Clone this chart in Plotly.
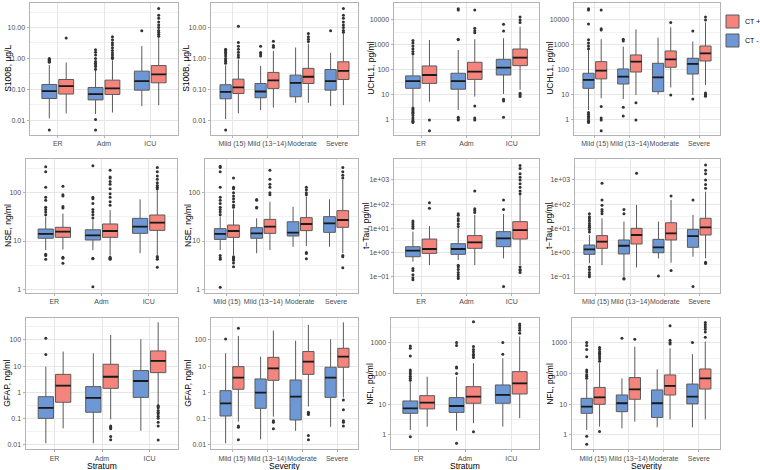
import plotly.graph_objects as go

# ---------------- categories ----------------
STRATA = ["ER", "Adm", "ICU"]
SEVERITY = ["Mild (15)", "Mild (13\u221214)", "Moderate", "Severe"]
GROUPS = ["CT +", "CT -"]

# ---------------- box statistics (lo/hi = whisker ends, out = outliers) ----------------
s100b_str_neg = dict(lo=[0.0116, 0.016, 0.029], q1=[0.051, 0.046, 0.095], med=[0.088, 0.071, 0.186],
                     q3=[0.145, 0.116, 0.39], hi=[0.62, 0.42, 2.5],
                     out=[[0.75, 0.82, 0.88, 0.95, 1.0, 0.0049],
                          [0.45, 0.55, 0.62, 0.7, 0.8, 1.0, 1.3, 1.6, 1.9, 0.0107, 0.0049], [7.8]])
s100b_str_pos = dict(lo=[0.0168, 0.018, 0.031], q1=[0.071, 0.069, 0.164], med=[0.128, 0.108, 0.305],
                     q3=[0.21, 0.2, 0.59], hi=[0.74, 0.88, 4.75],
                     out=[[4.6], [1.0, 1.1, 1.3, 1.5, 1.8, 2.2, 2.7, 3.2, 4.0, 5.0],
                          [5.2, 6, 7, 8, 10, 12, 15, 20, 25, 41]])

s100b_sev_neg = dict(lo=[0.011, 0.0215, 0.037, 0.029], q1=[0.050, 0.054, 0.058, 0.095],
                     med=[0.084, 0.086, 0.164, 0.186], q3=[0.142, 0.156, 0.29, 0.44], hi=[0.6, 0.57, 2.26, 1.52],
                     out=[[0.7, 0.8, 0.9, 1.0, 1.2, 1.4, 1.6, 1.8, 2.0, 0.0049], [1.2, 1.4, 1.55, 2.5], [], [7.8]])
s100b_sev_pos = dict(lo=[0.017, 0.026, 0.037, 0.031], q1=[0.074, 0.108, 0.156, 0.21],
                     med=[0.116, 0.195, 0.257, 0.4], q3=[0.215, 0.355, 0.48, 0.78], hi=[0.93, 1.77, 3.0, 6.4],
                     out=[[1.1, 1.3, 1.6, 2.0, 2.5, 3.3, 11], [2.3, 2.6, 3.6], [3.5, 4.2, 5, 6.4],
                          [7, 8, 10, 12, 15, 20, 25, 41]])

uchl1_str_neg = dict(lo=[3.4, 2.5, 11], q1=[18.5, 17, 63], med=[36, 36, 124], q3=[58, 74, 267], hi=[400, 630, 1850],
                     out=[[450, 550, 700, 900, 1200, 1500, 0.8, 0.9, 1.0, 1.2, 1.5, 1.8, 2.0, 2.3, 2.6, 3.0],
                          [1600, 1700, 25000, 28000, 1.0, 1.1, 1.3], [3600, 6700, 5.7, 6.8, 1.3]])
uchl1_str_pos = dict(lo=[5.4, 8.6, 16], q1=[29, 42, 149], med=[63, 86, 311], q3=[145, 203, 690], hi=[1580, 1690, 5400],
                     out=[[1.0, 0.37], [3100, 3700, 4700, 25000, 3.6, 1.2, 1.0], [8000, 10000, 13000, 8.6, 10, 11.7]])

uchl1_sev_neg = dict(lo=[2.5, 6.9, 10.5, 10], q1=[18.5, 27.5, 13.6, 69], med=[40, 54, 51, 174],
                     q3=[74, 110, 185, 293], hi=[630, 860, 1960, 1360],
                     out=[[700, 900, 1200, 1600, 6900, 25000, 28000, 0.8, 0.9, 1.0, 1.2, 1.4, 1.7, 2.0],
                          [1450, 1700, 3.2, 1.45], [], [3600, 6.9]])
uchl1_sev_pos = dict(lo=[7.4, 10, 20, 25], q1=[44, 83, 128, 229], med=[94, 215, 267, 464],
                     q3=[215, 400, 575, 910], hi=[1700, 4200, 5100, 8000],
                     out=[[4000, 4500, 25000, 3.5, 1.2, 1.0, 0.37], [4.9, 1.0], [8000, 10],
                          [10000, 13000, 9, 10, 11, 12]])

nse_str_neg = dict(lo=[6.5, 6.5, 5.6], q1=[11.4, 10.5, 14.4], med=[14, 13.1, 19.8], q3=[17.7, 17.1, 29.4],
                   hi=[32, 27, 73],
                   out=[[35, 40, 45, 50, 70, 80, 129, 272, 345, 5.3, 5.0, 4.2],
                        [30, 35, 40, 45, 60, 75, 80, 360, 4.4, 4.3, 1.13], []])
nse_str_pos = dict(lo=[6.7, 5.0, 5.1], q1=[11.9, 11.9, 16.6], med=[15.6, 16.1, 23.9], q3=[19.2, 22.5, 34.5],
                   hi=[37, 43.6, 113],
                   out=[[48, 52, 85, 90, 135, 4.6, 4.4, 3.45],
                        [55, 65, 80, 95, 120, 150, 170, 200, 210, 290, 4.6, 4.4, 4.3, 4.2],
                        [120, 130, 140, 160, 190, 220, 270, 330, 4.8, 4.5, 4.2, 2.85]])

nse_sev_neg = dict(lo=[6.5, 5.6, 7.6, 7.6], q1=[10.8, 11.4, 12.7, 15.1], med=[14, 14.4, 14.9, 23.2],
                   q3=[18, 18.9, 25, 31.9], hi=[32, 29.4, 51, 73],
                   out=[[35, 40, 45, 50, 60, 70, 80, 130, 270, 330, 350, 5.0, 4.5, 4.2, 1.1],
                        [48, 50, 70, 72], [], []])
nse_sev_pos = dict(lo=[5.1, 6.5, 7.9, 5.6], q1=[11.9, 14.4, 16.4, 19.2], med=[16.1, 19.8, 22.5, 27.2],
                   q3=[21.4, 28, 30.4, 42.5], hi=[45, 65, 83, 183],
                   out=[[50, 55, 65, 75, 85, 100, 120, 130, 200, 4.7, 4.5, 4.3, 4.0, 3.5, 2.95],
                        [90, 100, 130, 150, 190, 290], [90, 100, 115, 130, 5.8, 5.5, 4.3],
                        [200, 230, 270, 330, 5.0, 4.7, 2.8]])

ttau_str_neg = dict(lo=[0.42, 0.49, 0.57], q1=[0.67, 0.84, 1.74], med=[1.19, 1.4, 3.86], q3=[1.74, 2.32, 7.3],
                    hi=[7.3, 10, 39],
                    out=[[10, 12, 14, 17, 20, 0.22, 0.18, 0.12, 0.09, 0.075],
                         [12, 15, 20, 25, 35, 40, 0.3, 0.25, 0.2, 0.15, 0.12, 0.1, 0.085], [60, 149, 0.039]])
ttau_str_pos = dict(lo=[0.3, 0.3, 0.3], q1=[0.92, 1.49, 3.6], med=[1.4, 2.64, 8.5], q3=[3.6, 5, 18.9],
                    hi=[12.5, 36, 240],
                    out=[[67, 115], [45, 55, 65, 350],
                         [270, 350, 500, 700, 1000, 1300, 1800, 3000, 4000, 0.25, 0.2, 0.18, 0.15]])

ttau_sev_neg = dict(lo=[0.36, 0.1, 0.57, 0.67], q1=[0.84, 0.87, 0.98, 1.64], med=[1.35, 1.9, 1.64, 4.8],
                    q3=[2.04, 3.3, 3.5, 9.1], hi=[5.3, 19, 19, 36],
                    out=[[7, 9, 11, 13, 16, 20, 25, 30, 40, 0.25, 0.2, 0.15, 0.12, 0.1],
                         [40, 60, 0.085, 0.08], [0.107], [149, 0.039]])
ttau_sev_pos = dict(lo=[0.3, 0.24, 0.38, 0.57], q1=[1.49, 2.25, 3.3, 5.3], med=[2.8, 5.3, 6.2, 11],
                    q3=[5, 10, 17, 26], hi=[26, 92, 150, 330],
                    out=[[40, 50, 60, 90, 150, 730], [1890], [218, 0.18],
                         [450, 650, 1000, 1800, 2500, 4200, 0.4, 0.35]])

gfap_str_neg = dict(lo=[0.011, 0.011, 0.033], q1=[0.099, 0.17, 0.63], med=[0.25, 0.6, 2.68], q3=[0.67, 1.63, 6.7],
                    hi=[9.5, 31, 106], out=[[28, 116], [], []])
gfap_str_pos = dict(lo=[0.041, 0.091, 0.32], q1=[0.41, 1.4, 5.6], med=[1.77, 3.9, 15.7], q3=[4.8, 11.7, 38],
                    hi=[36, 155, 475],
                    out=[[], [0.05, 0.045, 0.04, 0.02, 0.015],
                         [0.3, 0.28, 0.25, 0.2, 0.17, 0.15, 0.12, 0.1, 0.07, 0.05, 0.0148]])

gfap_sev_neg = dict(lo=[0.011, 0.0155, 0.033, 0.047], q1=[0.122, 0.24, 0.086, 0.63], med=[0.37, 0.96, 0.67, 3.6],
                    q3=[1.14, 3.2, 2.92, 9], hi=[31, 23, 94, 106], out=[[110], [], [], []])
gfap_sev_pos = dict(lo=[0.074, 0.115, 0.28, 0.63], q1=[1.29, 2.84, 4.8, 9], med=[3.6, 8.2, 14.8, 23],
                    q3=[9.5, 21.6, 36, 48], hi=[142, 228, 376, 475],
                    out=[[280, 0.05, 0.045, 0.015], [0.08, 0.07, 0.04], [0.17, 0.15, 0.14, 0.022, 0.015],
                         [0.5, 0.21, 0.08, 0.07, 0.05]])

nfl_str_neg = dict(lo=[1.45, 1.38, 1.86], q1=[5.05, 5.4, 10.7], med=[7.3, 8.7, 19.9], q3=[12.7, 16.3, 42],
                   hi=[54, 78, 310],
                   out=[[60, 70, 80, 95, 110, 130, 369, 650, 780, 0.88], [100, 150, 160, 800, 1000, 0.54],
                        [418, 1000]])
nfl_str_pos = dict(lo=[1.86, 2.4, 3.5], q1=[7, 10.7, 21.4], med=[11.2, 17.6, 47.7], q3=[18.9, 37, 114],
                   hi=[78, 214, 1570],
                   out=[[], [330, 380, 420, 500, 600, 750, 4800, 1.28], [2000, 2500, 3000, 3500, 4000]])

nfl_sev_neg = dict(lo=[1.45, 1.64, 1.77, 1.77], q1=[5.05, 5.7, 3.7, 10.2], med=[8.3, 10.7, 10.7, 17.6],
                   q3=[15.5, 19.9, 29, 45], hi=[61, 69, 136, 418],
                   out=[[70, 80, 90, 110, 130, 350, 600, 800, 1000, 0.9, 0.5], [1380], [], [1000]])
nfl_sev_pos = dict(lo=[1.86, 2.7, 3.2, 3.2], q1=[9.9, 14.4, 19.9, 31], med=[16.7, 30.4, 39, 69],
                   q3=[35, 73, 89, 139], hi=[213, 740, 655, 1080],
                   out=[[250, 300, 350, 400, 450, 500, 600, 700, 1.3], [1280], [900, 1000, 1200, 3500],
                        [1500, 2200, 2700, 3200, 3800, 4500]])

# ---------------- axis tick labels ----------------
S100B_TICKS = [0.01, 0.1, 1, 10]
S100B_TEXT = ["0.01", "0.10", "1.00", "10.00"]
UCHL1_TICKS = [1, 10, 100, 1000, 10000]
UCHL1_TEXT = ["1", "10", "100", "1000", "10000"]
NSE_TICKS = [1, 10, 100]
NSE_TEXT = ["1", "10", "100"]
TTAU_TICKS = [0.1, 1, 10, 100, 1000]
TTAU_TEXT = ["1e\u221201", "1e+00", "1e+01", "1e+02", "1e+03"]
GFAP_TICKS = [0.01, 0.1, 1, 10, 100]
GFAP_TEXT = ["0.01", "0.1", "1", "10", "100"]
NFL_TICKS = [1, 10, 100, 1000]
NFL_TEXT = ["1", "10", "100", "1000"]

# ---------------- styling ----------------
FILL = {"CT -": "#6E98D5", "CT +": "#F5847D"}
LINE = "#5A5A5A"
GRID = "#E6E6E6"
MINOR = "#F2F2F2"
BORDER = "#B3B3B3"
TICKC = "#4D4D4D"
FONT = "Liberation Sans, Arial, Helvetica, sans-serif"
W, H = 760, 470

# panel layout (pixels): x-domains per row, y-domains per row
XDOM = [[(30, 178), (211, 358), (394, 539), (574, 720)],
        [(26, 177), (205, 358), (394, 539), (575, 720)],
        [(26, 178), (211, 358), (391, 539), (572, 720)]]
YDOM = [(2.7, 135), (159.3, 292.7), (318.3, 449.3)]
YTITLE_X = [[8, 186, 371, 550], [8, 188, 366, 549], [7, 188, 370, 550]]

panels = [
    (STRATA, s100b_str_neg, s100b_str_pos, "S100B, \u00b5g/L", S100B_TICKS, S100B_TEXT, [-2.47, 1.80]),
    (SEVERITY, s100b_sev_neg, s100b_sev_pos, "S100B, \u00b5g/L", S100B_TICKS, S100B_TEXT, [-2.47, 1.80]),
    (STRATA, uchl1_str_neg, uchl1_str_pos, "UCHL1, pg/ml", UCHL1_TICKS, UCHL1_TEXT, [-0.60, 4.69]),
    (SEVERITY, uchl1_sev_neg, uchl1_sev_pos, "UCHL1, pg/ml", UCHL1_TICKS, UCHL1_TEXT, [-0.60, 4.69]),
    (STRATA, nse_str_neg, nse_str_pos, "NSE, ng/ml", NSE_TICKS, NSE_TEXT, [-0.069, 2.69]),
    (SEVERITY, nse_sev_neg, nse_sev_pos, "NSE, ng/ml", NSE_TICKS, NSE_TEXT, [-0.069, 2.69]),
    (STRATA, ttau_str_neg, ttau_str_pos, "t\u2212Tau, pg/ml", TTAU_TICKS, TTAU_TEXT, [-1.662, 3.855]),
    (SEVERITY, ttau_sev_neg, ttau_sev_pos, "t\u2212Tau, pg/ml", TTAU_TICKS, TTAU_TEXT, [-1.662, 3.855]),
    (STRATA, gfap_str_neg, gfap_str_pos, "GFAP, ng/ml", GFAP_TICKS, GFAP_TEXT, [-2.19, 2.83]),
    (SEVERITY, gfap_sev_neg, gfap_sev_pos, "GFAP, ng/ml", GFAP_TICKS, GFAP_TEXT, [-2.19, 2.83]),
    (STRATA, nfl_str_neg, nfl_str_pos, "NFL, pg/ml", NFL_TICKS, NFL_TEXT, [-0.467, 3.79]),
    (SEVERITY, nfl_sev_neg, nfl_sev_pos, "NFL, pg/ml", NFL_TICKS, NFL_TEXT, [-0.467, 3.79]),
]

fig = go.Figure()
layout = {}
annotations = []
shapes = []

for p, (cats, neg, pos, ytitle, tvals, ttext, yr) in enumerate(panels):
    r, c = divmod(p, 4)
    n = "" if p == 0 else str(p + 1)
    xa, ya = "x" + n, "y" + n
    for gname, st in (("CT -", neg), ("CT +", pos)):
        # an empty outlier row is passed as [None] so every box keeps a sample row
        pts = [o if len(o) else [None] for o in st["out"]]
        fig.add_trace(go.Box(
            x=cats, y=pts, q1=st["q1"], median=st["med"], q3=st["q3"],
            lowerfence=st["lo"], upperfence=st["hi"], orientation="v",
            name=gname, legendgroup=gname, showlegend=False,
            offsetgroup=gname, alignmentgroup=f"a{p}",
            xaxis=xa, yaxis=ya,
            fillcolor=FILL[gname], line=dict(color=LINE, width=1),
            whiskerwidth=0, boxpoints="outliers", pointpos=0, jitter=0,
            marker=dict(color="#333333", size=3, line=dict(width=0)),
            hoverinfo="skip",
        ))
        # thicker dark median bar drawn on top of each box
        fig.add_trace(go.Box(
            x=cats, q1=st["med"], median=st["med"], q3=st["med"],
            lowerfence=st["med"], upperfence=st["med"], orientation="v",
            name=gname, legendgroup=gname, showlegend=False,
            offsetgroup=gname, alignmentgroup=f"a{p}",
            xaxis=xa, yaxis=ya,
            fillcolor="rgba(0,0,0,0)", line=dict(color="#1A1A1A", width=1.8),
            whiskerwidth=0, boxpoints=False, hoverinfo="skip",
        ))

    x0, x1 = XDOM[r][c]
    y0, y1 = YDOM[r]
    minor_vals = [10 ** (k + 0.5) for k in range(-4, 6)]
    layout["xaxis" + n] = dict(
        domain=[x0 / W, x1 / W], anchor=ya, type="category",
        categoryorder="array", categoryarray=cats, range=[-0.6, len(cats) - 0.4],
        showgrid=True, gridcolor=GRID, gridwidth=1,
        showline=True, linecolor=BORDER, linewidth=1, mirror=True,
        ticks="outside", ticklen=2, tickcolor=BORDER, tickangle=0,
        tickfont=dict(size=7, color=TICKC, family=FONT), zeroline=False,
    )
    layout["yaxis" + n] = dict(
        domain=[1 - y1 / H, 1 - y0 / H], anchor=xa, type="log", range=yr,
        tickmode="array", tickvals=tvals, ticktext=ttext,
        showgrid=True, gridcolor=GRID, gridwidth=1,
        minor=dict(tickvals=minor_vals, showgrid=True, gridcolor=MINOR, gridwidth=0.7, ticks=""),
        showline=True, linecolor=BORDER, linewidth=1, mirror=True,
        ticks="outside", ticklen=2.5, tickcolor=BORDER,
        tickfont=dict(size=7, color=TICKC, family=FONT), zeroline=False,
    )
    annotations.append(dict(
        text=ytitle, textangle=-90, x=YTITLE_X[r][c] / W, y=1 - (y0 + y1) / 2 / H,
        xref="paper", yref="paper", xanchor="center", yanchor="middle", showarrow=False,
        font=dict(size=8.5, color="black", family=FONT)))
    if r == 2:
        annotations.append(dict(
            text="Stratum" if cats is STRATA else "Severity",
            x=(x0 + x1) / 2 / W, y=1 - 465.5 / H, xref="paper", yref="paper",
            xanchor="center", yanchor="middle", showarrow=False,
            font=dict(size=8.5, color="black", family=FONT)))

# legend (drawn as keys + labels at the top right)
for i, g in enumerate(GROUPS):
    top = 15 + i * 19
    shapes.append(dict(type="rect", xref="paper", yref="paper",
                       x0=726 / W, x1=739 / W, y0=1 - (top + 13) / H, y1=1 - top / H,
                       fillcolor=FILL[g], line=dict(color=LINE, width=1)))
    annotations.append(dict(text=g, x=742.5 / W, y=1 - (top + 6.5) / H, xref="paper", yref="paper",
                            xanchor="left", yanchor="middle", showarrow=False,
                            font=dict(size=7, color="black", family=FONT)))

fig.update_layout(
    **layout,
    annotations=annotations,
    shapes=shapes,
    showlegend=False,
    width=W, height=H, autosize=False,
    margin=dict(l=0, r=0, t=0, b=0),
    paper_bgcolor="white", plot_bgcolor="white",
    boxmode="group", boxgap=0.27, boxgroupgap=0.12,
    font=dict(family=FONT, size=8, color="black"),
)

# remove the browser's default 8px page margin so the figure starts at the window corner
fig.write_html("out.html",
               config={"displayModeBar": False},
               post_script="document.body.style.margin='0';document.body.style.overflow='hidden';")
